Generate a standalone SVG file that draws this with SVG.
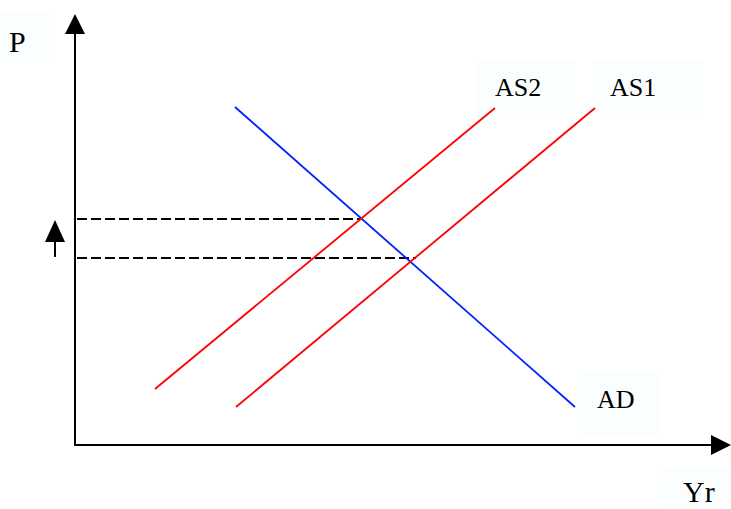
<svg xmlns="http://www.w3.org/2000/svg" width="731" height="509" viewBox="0 0 731 509">
<style>
.lbl{font-family:"Liberation Serif","Times New Roman",serif;font-size:26px;fill:#000}
.big{font-size:30px}
.box{fill:#fbfefe}
.axis{stroke:#000;stroke-width:2;fill:none}
.dash{stroke:#000;stroke-width:1.8;stroke-dasharray:10,4;fill:none}
.as{stroke:#ff0000;stroke-width:1.8;fill:none}
.ad{stroke:#0022ff;stroke-width:1.8;fill:none}
.head{fill:#000}
</style>
<rect width="731" height="509" fill="#fff"/>
<g id="label-P"><rect class="box" x="0" y="13" width="55" height="49"/><text class="lbl big" x="9" y="52">P</text></g>
<g id="label-AS2"><rect class="box" x="476" y="60" width="99" height="58"/><text class="lbl" x="495" y="96">AS2</text></g>
<g id="label-AS1"><rect class="box" x="592" y="60" width="111" height="58"/><text class="lbl" x="610" y="96">AS1</text></g>
<g id="label-AD"><rect class="box" x="577" y="373" width="83" height="62"/><text class="lbl" x="597" y="408">AD</text></g>
<g id="label-Yr"><rect class="box" x="662" y="468" width="69" height="41"/><text class="lbl big" x="683" y="502">Yr</text></g>
<g id="connectors">
<line class="axis" x1="75" y1="446" x2="75" y2="32"/>
<polygon class="head" points="75,14 65,34 85,34"/>
<line class="axis" x1="74" y1="445" x2="714" y2="445"/>
<polygon class="head" points="731,445 711,435 711,455"/>
<line class="axis" x1="55" y1="257" x2="55" y2="240"/>
<polygon class="head" points="55,220 45,242 65,242"/>
<line class="dash" x1="77" y1="219" x2="361" y2="219"/>
<line class="dash" x1="77" y1="258" x2="416" y2="258"/>
<line class="ad" x1="235" y1="107" x2="575" y2="407"/>
<line class="as" x1="155" y1="389" x2="495" y2="108"/>
<line class="as" x1="236" y1="407" x2="595" y2="108"/>
</g>
</svg>
